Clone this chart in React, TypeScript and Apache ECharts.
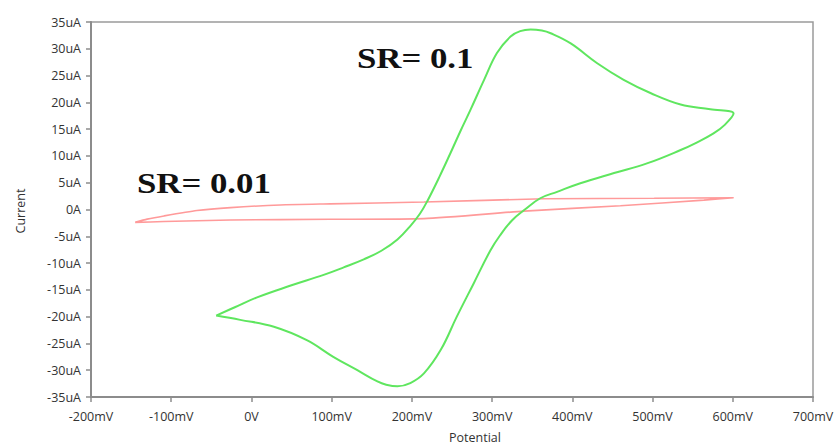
import React, { useEffect, useRef } from "react";
import * as echarts from "echarts";

const xTicks = [-200, 700, 100];
const yTicks = [-35, 35, 5];

// SR = 0.1 cyclic voltammogram (mV, uA)
const sr01: [number, number][] = [
  [-44, -19.8], [-20, -18.2], [7, -16.4], [49, -14.2], [90, -12.2], [115, -10.8],
  [140, -9.3], [162, -7.7], [182, -5.6], [199, -2.9], [210, -0.8], [219, 1.5],
  [234, 6], [248, 10.5], [261, 14.8], [273, 18.6], [290, 24.2], [306, 29.2],
  [323, 32.3], [335, 33.3], [348, 33.6], [362, 33.4], [373, 32.9], [398, 31],
  [431, 27.3], [464, 24.2], [498, 21.7], [535, 19.6], [572, 18.7], [601, 17.9],
  [590, 15.8], [576, 14.2], [555, 12.5], [535, 11.1], [493, 8.6], [452, 6.8],
  [410, 4.9], [381, 3.3], [360, 2.1], [340, -0.1], [325, -2], [310, -4.8],
  [298, -7.6], [277, -13.8], [256, -20], [236, -26.2], [215, -30.6], [198, -32.4],
  [182, -33], [168, -32.7], [157, -32.1], [132, -30], [102, -27.5], [69, -24.4],
  [28, -21.9], [-14, -20.6], [-44, -19.8],
];

// SR = 0.01 cyclic voltammogram (mV, uA)
const sr001: [number, number][] = [
  [-145, -2.4], [-130, -1.8], [-109, -1.2], [-68, -0.2], [-26, 0.35], [36, 0.85],
  [98, 1.05], [215, 1.4], [365, 2.0], [502, 2.1], [601, 2.2], [564, 1.75],
  [460, 0.7], [340, -0.3], [215, -1.7], [98, -1.83], [-26, -1.96], [-109, -2.25],
  [-145, -2.4],
];

const labels = [
  { text: "SR= 0.1", x: 357, y: 58 },
  { text: "SR= 0.01", x: 137, y: 183 },
];

export default function App() {
  const ref = useRef<HTMLDivElement>(null);
  useEffect(() => {
    if (!ref.current) return;
    const chart = echarts.init(ref.current, null, { renderer: "svg" });
    const axisColor = "#8c8c8c";
    const labelStyle = {
      color: "#333",
      fontSize: 12.5,
      fontFamily: "Open Sans",
    };
    chart.setOption({
      animation: false,
      backgroundColor: "#fff",
      grid: {
        left: 91,
        right: 24,
        top: 22,
        bottom: 49,
        show: true,
        borderColor: "#9a9a9a",
        borderWidth: 1.5,
      },
      xAxis: {
        type: "value",
        min: xTicks[0],
        max: xTicks[1],
        interval: xTicks[2],
        axisLine: { show: true, onZero: false, lineStyle: { color: axisColor, width: 2 } },
        axisTick: { show: true, length: 5, lineStyle: { color: axisColor, width: 1.5 } },
        splitLine: { show: false },
        axisLabel: {
          ...labelStyle,
          margin: 13,
          formatter: (v: number) => (v === 0 ? "0V" : v + "mV"),
        },
      },
      yAxis: {
        type: "value",
        min: yTicks[0],
        max: yTicks[1],
        interval: yTicks[2],
        axisLine: { show: true, onZero: false, lineStyle: { color: axisColor, width: 2 } },
        axisTick: { show: true, length: 5, lineStyle: { color: axisColor, width: 1.5 } },
        splitLine: { show: false },
        axisLabel: {
          ...labelStyle,
          margin: 10,
          formatter: (v: number) => (v === 0 ? "0A" : v + "uA"),
        },
      },
      graphic: [
        {
          type: "text",
          x: 20,
          y: 211,
          rotation: Math.PI / 2,
          style: {
            text: "Current",
            fill: "#333",
            fontSize: 12.5,
            fontFamily: "Open Sans",
            align: "center",
            verticalAlign: "middle",
          },
        },
        {
          type: "text",
          x: 475,
          y: 437,
          style: {
            text: "Potential",
            fill: "#333",
            fontSize: 12.5,
            fontFamily: "Open Sans",
            align: "center",
            verticalAlign: "middle",
          },
        },
        ...labels.map((l) => ({
          type: "text",
          x: l.x,
          y: l.y,
          scaleX: 1.2,
          style: {
            text: l.text,
            fill: "#111",
            fontSize: 29,
            fontWeight: "bold",
            fontFamily: "Liberation Serif",
            align: "left",
            verticalAlign: "middle",
          },
        })),
      ],
      series: [
        {
          type: "line",
          data: sr001,
          showSymbol: false,
          smooth: 0.2,
          lineStyle: { color: "#ff9a9a", width: 1.6 },
        },
        {
          type: "line",
          data: sr01,
          showSymbol: false,
          smooth: 0.4,
          lineStyle: { color: "#5fe65f", width: 2 },
        },
      ],
    });
    return () => chart.dispose();
  }, []);
  return (
    <div
      ref={ref}
      style={{ position: "absolute", left: 0, top: 0, width: 837, height: 446 }}
    />
  );
}
